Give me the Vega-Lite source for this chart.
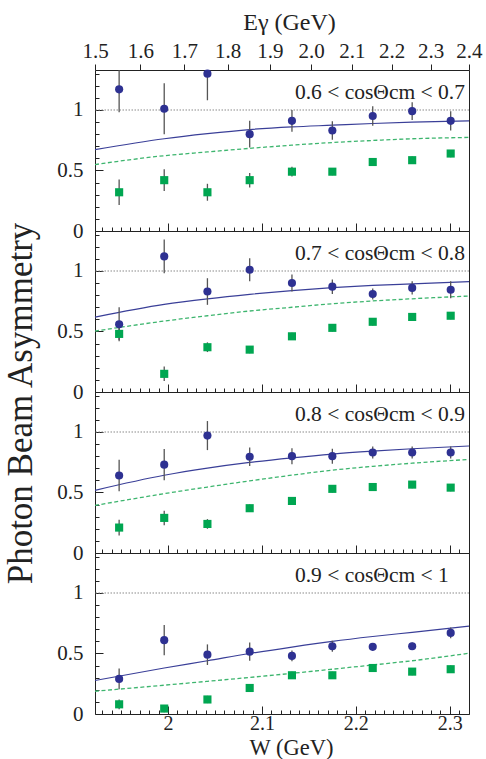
{
  "$schema": "https://vega.github.io/schema/vega-lite/v6.json",
  "background": "white",
  "padding": {"left": 2, "top": 10, "right": 0, "bottom": 0},
  "config": {
    "font": "Liberation Serif, serif",
    "view": {"stroke": "#222", "strokeWidth": 1},
    "text": {"font": "Liberation Serif, serif"},
    "axis": {
      "grid": false, "domain": false,
      "labelFont": "Liberation Serif, serif", "labelFontSize": 21, "labelColor": "#222",
      "titleFont": "Liberation Serif, serif", "titleFontWeight": "normal", "titleColor": "#222",
      "tickColor": "#222", "tickWidth": 1, "labelFlush": false, "labelOverlap": false
    }
  },
  "datasets": {
    "points": [
      {"panel": 1, "series": "circle", "W": 1.948, "value": 1.17, "err": 0.19},
      {"panel": 1, "series": "circle", "W": 1.996, "value": 1.01, "err": 0.21},
      {"panel": 1, "series": "circle", "W": 2.042, "value": 1.30, "err": 0.22},
      {"panel": 1, "series": "circle", "W": 2.087, "value": 0.80, "err": 0.11},
      {"panel": 1, "series": "circle", "W": 2.132, "value": 0.91, "err": 0.09},
      {"panel": 1, "series": "circle", "W": 2.175, "value": 0.83, "err": 0.077},
      {"panel": 1, "series": "circle", "W": 2.218, "value": 0.95, "err": 0.08},
      {"panel": 1, "series": "circle", "W": 2.260, "value": 0.99, "err": 0.073},
      {"panel": 1, "series": "circle", "W": 2.301, "value": 0.91, "err": 0.08},
      {"panel": 1, "series": "square", "W": 1.948, "value": 0.32, "err": 0.105},
      {"panel": 1, "series": "square", "W": 1.996, "value": 0.42, "err": 0.09},
      {"panel": 1, "series": "square", "W": 2.042, "value": 0.32, "err": 0.07},
      {"panel": 1, "series": "square", "W": 2.087, "value": 0.42, "err": 0.06},
      {"panel": 1, "series": "square", "W": 2.132, "value": 0.49, "err": 0.04},
      {"panel": 1, "series": "square", "W": 2.175, "value": 0.49, "err": 0.03},
      {"panel": 1, "series": "square", "W": 2.218, "value": 0.57, "err": 0.03},
      {"panel": 1, "series": "square", "W": 2.260, "value": 0.585, "err": 0.03},
      {"panel": 1, "series": "square", "W": 2.301, "value": 0.64, "err": 0.03},
      {"panel": 2, "series": "circle", "W": 1.948, "value": 0.56, "err": 0.14},
      {"panel": 2, "series": "circle", "W": 1.996, "value": 1.12, "err": 0.14},
      {"panel": 2, "series": "circle", "W": 2.042, "value": 0.83, "err": 0.11},
      {"panel": 2, "series": "circle", "W": 2.087, "value": 1.01, "err": 0.095},
      {"panel": 2, "series": "circle", "W": 2.132, "value": 0.90, "err": 0.07},
      {"panel": 2, "series": "circle", "W": 2.175, "value": 0.87, "err": 0.06},
      {"panel": 2, "series": "circle", "W": 2.218, "value": 0.81, "err": 0.045},
      {"panel": 2, "series": "circle", "W": 2.260, "value": 0.86, "err": 0.055},
      {"panel": 2, "series": "circle", "W": 2.301, "value": 0.845, "err": 0.07},
      {"panel": 2, "series": "square", "W": 1.948, "value": 0.48, "err": 0.05},
      {"panel": 2, "series": "square", "W": 1.996, "value": 0.15, "err": 0.06},
      {"panel": 2, "series": "square", "W": 2.042, "value": 0.37, "err": 0.04},
      {"panel": 2, "series": "square", "W": 2.087, "value": 0.35, "err": 0.03},
      {"panel": 2, "series": "square", "W": 2.132, "value": 0.46, "err": 0.03},
      {"panel": 2, "series": "square", "W": 2.175, "value": 0.53, "err": 0.03},
      {"panel": 2, "series": "square", "W": 2.218, "value": 0.58, "err": 0.03},
      {"panel": 2, "series": "square", "W": 2.260, "value": 0.62, "err": 0.03},
      {"panel": 2, "series": "square", "W": 2.301, "value": 0.63, "err": 0.03},
      {"panel": 3, "series": "circle", "W": 1.948, "value": 0.64, "err": 0.13},
      {"panel": 3, "series": "circle", "W": 1.996, "value": 0.73, "err": 0.13},
      {"panel": 3, "series": "circle", "W": 2.042, "value": 0.97, "err": 0.12},
      {"panel": 3, "series": "circle", "W": 2.087, "value": 0.795, "err": 0.077},
      {"panel": 3, "series": "circle", "W": 2.132, "value": 0.80, "err": 0.066},
      {"panel": 3, "series": "circle", "W": 2.175, "value": 0.80, "err": 0.062},
      {"panel": 3, "series": "circle", "W": 2.218, "value": 0.83, "err": 0.05},
      {"panel": 3, "series": "circle", "W": 2.260, "value": 0.83, "err": 0.05},
      {"panel": 3, "series": "circle", "W": 2.301, "value": 0.83, "err": 0.05},
      {"panel": 3, "series": "square", "W": 1.948, "value": 0.21, "err": 0.065},
      {"panel": 3, "series": "square", "W": 1.996, "value": 0.29, "err": 0.06},
      {"panel": 3, "series": "square", "W": 2.042, "value": 0.24, "err": 0.04},
      {"panel": 3, "series": "square", "W": 2.087, "value": 0.37, "err": 0.03},
      {"panel": 3, "series": "square", "W": 2.132, "value": 0.43, "err": 0.03},
      {"panel": 3, "series": "square", "W": 2.175, "value": 0.53, "err": 0.03},
      {"panel": 3, "series": "square", "W": 2.218, "value": 0.545, "err": 0.03},
      {"panel": 3, "series": "square", "W": 2.260, "value": 0.565, "err": 0.03},
      {"panel": 3, "series": "square", "W": 2.301, "value": 0.54, "err": 0.03},
      {"panel": 4, "series": "circle", "W": 1.948, "value": 0.29, "err": 0.085},
      {"panel": 4, "series": "circle", "W": 1.996, "value": 0.61, "err": 0.125},
      {"panel": 4, "series": "circle", "W": 2.042, "value": 0.49, "err": 0.085},
      {"panel": 4, "series": "circle", "W": 2.087, "value": 0.515, "err": 0.075},
      {"panel": 4, "series": "circle", "W": 2.132, "value": 0.48, "err": 0.045},
      {"panel": 4, "series": "circle", "W": 2.175, "value": 0.56, "err": 0.045},
      {"panel": 4, "series": "circle", "W": 2.218, "value": 0.555, "err": 0.03},
      {"panel": 4, "series": "circle", "W": 2.260, "value": 0.56, "err": 0.03},
      {"panel": 4, "series": "circle", "W": 2.301, "value": 0.67, "err": 0.045},
      {"panel": 4, "series": "square", "W": 1.948, "value": 0.08, "err": 0.04},
      {"panel": 4, "series": "square", "W": 1.996, "value": 0.045, "err": 0.03},
      {"panel": 4, "series": "square", "W": 2.042, "value": 0.12, "err": 0.03},
      {"panel": 4, "series": "square", "W": 2.087, "value": 0.215, "err": 0.03},
      {"panel": 4, "series": "square", "W": 2.132, "value": 0.32, "err": 0.03},
      {"panel": 4, "series": "square", "W": 2.175, "value": 0.32, "err": 0.03},
      {"panel": 4, "series": "square", "W": 2.218, "value": 0.38, "err": 0.03},
      {"panel": 4, "series": "square", "W": 2.260, "value": 0.35, "err": 0.03},
      {"panel": 4, "series": "square", "W": 2.301, "value": 0.37, "err": 0.03}
    ],
    "curves": [
      {"panel": 1, "curve": "solid", "W": 1.9223, "value": 0.672},
      {"panel": 1, "curve": "solid", "W": 1.996, "value": 0.762},
      {"panel": 1, "curve": "solid", "W": 2.042, "value": 0.804},
      {"panel": 1, "curve": "solid", "W": 2.087, "value": 0.838},
      {"panel": 1, "curve": "solid", "W": 2.132, "value": 0.860},
      {"panel": 1, "curve": "solid", "W": 2.175, "value": 0.874},
      {"panel": 1, "curve": "solid", "W": 2.218, "value": 0.888},
      {"panel": 1, "curve": "solid", "W": 2.260, "value": 0.899},
      {"panel": 1, "curve": "solid", "W": 2.3205, "value": 0.910},
      {"panel": 1, "curve": "dashed", "W": 1.9223, "value": 0.549},
      {"panel": 1, "curve": "dashed", "W": 1.996, "value": 0.622},
      {"panel": 1, "curve": "dashed", "W": 2.042, "value": 0.653},
      {"panel": 1, "curve": "dashed", "W": 2.087, "value": 0.683},
      {"panel": 1, "curve": "dashed", "W": 2.132, "value": 0.709},
      {"panel": 1, "curve": "dashed", "W": 2.175, "value": 0.731},
      {"panel": 1, "curve": "dashed", "W": 2.218, "value": 0.748},
      {"panel": 1, "curve": "dashed", "W": 2.260, "value": 0.762},
      {"panel": 1, "curve": "dashed", "W": 2.3205, "value": 0.773},
      {"panel": 2, "curve": "solid", "W": 1.9223, "value": 0.619},
      {"panel": 2, "curve": "solid", "W": 1.996, "value": 0.724},
      {"panel": 2, "curve": "solid", "W": 2.042, "value": 0.770},
      {"panel": 2, "curve": "solid", "W": 2.087, "value": 0.807},
      {"panel": 2, "curve": "solid", "W": 2.132, "value": 0.838},
      {"panel": 2, "curve": "solid", "W": 2.175, "value": 0.862},
      {"panel": 2, "curve": "solid", "W": 2.218, "value": 0.880},
      {"panel": 2, "curve": "solid", "W": 2.260, "value": 0.893},
      {"panel": 2, "curve": "solid", "W": 2.3205, "value": 0.912},
      {"panel": 2, "curve": "dashed", "W": 1.9223, "value": 0.503},
      {"panel": 2, "curve": "dashed", "W": 1.996, "value": 0.586},
      {"panel": 2, "curve": "dashed", "W": 2.042, "value": 0.630},
      {"panel": 2, "curve": "dashed", "W": 2.087, "value": 0.669},
      {"panel": 2, "curve": "dashed", "W": 2.132, "value": 0.700},
      {"panel": 2, "curve": "dashed", "W": 2.175, "value": 0.729},
      {"panel": 2, "curve": "dashed", "W": 2.218, "value": 0.752},
      {"panel": 2, "curve": "dashed", "W": 2.260, "value": 0.770},
      {"panel": 2, "curve": "dashed", "W": 2.3205, "value": 0.793},
      {"panel": 3, "curve": "solid", "W": 1.9223, "value": 0.518},
      {"panel": 3, "curve": "solid", "W": 1.996, "value": 0.642},
      {"panel": 3, "curve": "solid", "W": 2.042, "value": 0.701},
      {"panel": 3, "curve": "solid", "W": 2.087, "value": 0.748},
      {"panel": 3, "curve": "solid", "W": 2.132, "value": 0.786},
      {"panel": 3, "curve": "solid", "W": 2.175, "value": 0.817},
      {"panel": 3, "curve": "solid", "W": 2.218, "value": 0.841},
      {"panel": 3, "curve": "solid", "W": 2.260, "value": 0.861},
      {"panel": 3, "curve": "solid", "W": 2.3205, "value": 0.884},
      {"panel": 3, "curve": "dashed", "W": 1.9223, "value": 0.393},
      {"panel": 3, "curve": "dashed", "W": 1.996, "value": 0.490},
      {"panel": 3, "curve": "dashed", "W": 2.042, "value": 0.545},
      {"panel": 3, "curve": "dashed", "W": 2.087, "value": 0.596},
      {"panel": 3, "curve": "dashed", "W": 2.132, "value": 0.643},
      {"panel": 3, "curve": "dashed", "W": 2.175, "value": 0.684},
      {"panel": 3, "curve": "dashed", "W": 2.218, "value": 0.716},
      {"panel": 3, "curve": "dashed", "W": 2.260, "value": 0.742},
      {"panel": 3, "curve": "dashed", "W": 2.3205, "value": 0.773},
      {"panel": 4, "curve": "solid", "W": 1.9223, "value": 0.277},
      {"panel": 4, "curve": "solid", "W": 1.996, "value": 0.380},
      {"panel": 4, "curve": "solid", "W": 2.042, "value": 0.440},
      {"panel": 4, "curve": "solid", "W": 2.087, "value": 0.500},
      {"panel": 4, "curve": "solid", "W": 2.132, "value": 0.553},
      {"panel": 4, "curve": "solid", "W": 2.175, "value": 0.600},
      {"panel": 4, "curve": "solid", "W": 2.218, "value": 0.640},
      {"panel": 4, "curve": "solid", "W": 2.260, "value": 0.675},
      {"panel": 4, "curve": "solid", "W": 2.3205, "value": 0.726},
      {"panel": 4, "curve": "dashed", "W": 1.9223, "value": 0.188},
      {"panel": 4, "curve": "dashed", "W": 1.996, "value": 0.238},
      {"panel": 4, "curve": "dashed", "W": 2.042, "value": 0.270},
      {"panel": 4, "curve": "dashed", "W": 2.087, "value": 0.302},
      {"panel": 4, "curve": "dashed", "W": 2.132, "value": 0.336},
      {"panel": 4, "curve": "dashed", "W": 2.175, "value": 0.370},
      {"panel": 4, "curve": "dashed", "W": 2.218, "value": 0.405},
      {"panel": 4, "curve": "dashed", "W": 2.260, "value": 0.440},
      {"panel": 4, "curve": "dashed", "W": 2.3205, "value": 0.502}
    ]
  },
  "spacing": 0,
  "bounds": "flush",
  "vconcat": [
    {
      "width": 374, "height": 161,
      "resolve": {"axis": {"x": "independent", "y": "independent"}},
      "layer": [
        {
          "data": {"values": [{"level": 1}]},
          "mark": {"type": "rule", "color": "#8a8a8a", "strokeDash": [1.5, 1.5], "strokeWidth": 1.1},
          "encoding": {"y": {"field": "level", "type": "quantitative",
            "axis": {"orient": "left", "title": null, "values": [0, 0.5, 1], "ticks": false, "labelPadding": 12, "labelExpr": "'' + datum.value"}}}
        },
        {
          "data": {"name": "curves"},
          "transform": [{"filter": "datum.panel == 1 && datum.curve == 'solid'"}],
          "mark": {"type": "line", "color": "#3a3f98", "strokeWidth": 1.2, "interpolate": "monotone"},
          "encoding": {
            "x": {"field": "W", "type": "quantitative", "scale": {"domain": [1.9223, 2.3205], "nice": false, "zero": false},
                  "axis": {"orient": "bottom", "title": null, "labels": false, "values": [2.0, 2.1, 2.2, 2.3], "tickSize": -8}},
            "y": {"field": "value", "type": "quantitative", "scale": {"domain": [0, 1.33], "nice": false, "zero": false, "clamp": true},
                  "axis": {"orient": "left", "title": null, "labels": false, "values": [0, 0.5, 1], "tickSize": -8}}
          }
        },
        {
          "data": {"name": "curves"},
          "transform": [{"filter": "datum.panel == 1 && datum.curve == 'dashed'"}],
          "mark": {"type": "line", "color": "#3db56e", "strokeWidth": 1.3, "strokeDash": [4, 2.5], "interpolate": "monotone"},
          "encoding": {
            "x": {"field": "W", "type": "quantitative",
                  "axis": {"orient": "bottom", "title": null, "labels": false, "tickSize": -4,
                           "values": [1.93,1.94,1.95,1.96,1.97,1.98,1.99,2.01,2.02,2.03,2.04,2.05,2.06,2.07,2.08,2.09,2.11,2.12,2.13,2.14,2.15,2.16,2.17,2.18,2.19,2.21,2.22,2.23,2.24,2.25,2.26,2.27,2.28,2.29,2.31,2.32]}},
            "y": {"field": "value", "type": "quantitative",
                  "axis": {"orient": "left", "title": null, "labels": false, "tickSize": -4,
                           "values": [0.1, 0.2, 0.3, 0.4, 0.6, 0.7, 0.8, 0.9, 1.1, 1.2, 1.3]}}
          }
        },
        {
          "data": {"name": "points"},
          "transform": [{"filter": "datum.panel == 1"}],
          "mark": {"type": "errorbar", "ticks": false, "color": "#555", "thickness": 1.3},
          "encoding": {
            "x": {"field": "W", "type": "quantitative", "axis": null},
            "y": {"field": "value", "type": "quantitative", "axis": null},
            "yError": {"field": "err"}
          }
        },
        {
          "data": {"name": "points"},
          "transform": [{"filter": "datum.panel == 1"}],
          "mark": {"type": "point", "filled": true, "opacity": 1, "size": 66, "strokeWidth": 0},
          "encoding": {
            "x": {"field": "W", "type": "quantitative",
                  "axis": {"orient": "top", "title": "Eγ (GeV)", "titleFontSize": 24, "titleX": 194, "titleY": -40.5, "titleAlign": "center", "titleBaseline": "alphabetic",
                           "values": [1.92231, 1.97048, 2.01754, 2.06352, 2.1085, 2.15254, 2.1957, 2.23802, 2.27956, 2.32036],
                           "labelExpr": "format((datum.value*datum.value - 0.880351)/1.876544, '.1f')",
                           "tickSize": 6, "labelPadding": 3}},
            "y": {"field": "value", "type": "quantitative", "axis": null},
            "shape": {"field": "series", "type": "nominal", "scale": {"domain": ["circle", "square"], "range": ["circle", "square"]}, "legend": null},
            "color": {"field": "series", "type": "nominal", "scale": {"domain": ["circle", "square"], "range": ["#2e3192", "#00a651"]}, "legend": null}
          }
        },
        {
          "data": {"values": [{"label": "0.6 < cosΘcm < 0.7"}]},
          "mark": {"type": "text", "align": "left", "baseline": "alphabetic", "fontSize": 21.5, "font": "Liberation Serif, serif", "color": "#222"},
          "encoding": {
            "x": {"datum": 2.1352, "type": "quantitative", "axis": null},
            "y": {"datum": 1.09, "type": "quantitative", "axis": null},
            "text": {"field": "label"}
          }
        }
      ]
    },
    {
      "width": 374, "height": 161,
      "resolve": {"axis": {"x": "independent", "y": "independent"}},
      "layer": [
        {
          "data": {"values": [{"level": 1}]},
          "mark": {"type": "rule", "color": "#8a8a8a", "strokeDash": [1.5, 1.5], "strokeWidth": 1.1},
          "encoding": {"y": {"field": "level", "type": "quantitative",
            "axis": {"orient": "left", "title": null, "values": [0, 0.5, 1], "ticks": false, "labelPadding": 12, "labelExpr": "'' + datum.value"}}}
        },
        {
          "data": {"name": "curves"},
          "transform": [{"filter": "datum.panel == 2 && datum.curve == 'solid'"}],
          "mark": {"type": "line", "color": "#3a3f98", "strokeWidth": 1.2, "interpolate": "monotone"},
          "encoding": {
            "x": {"field": "W", "type": "quantitative", "scale": {"domain": [1.9223, 2.3205], "nice": false, "zero": false},
                  "axis": {"orient": "bottom", "title": null, "labels": false, "values": [2.0, 2.1, 2.2, 2.3], "tickSize": -8}},
            "y": {"field": "value", "type": "quantitative", "scale": {"domain": [0, 1.33], "nice": false, "zero": false, "clamp": true},
                  "axis": {"orient": "left", "title": null, "labels": false, "values": [0, 0.5, 1], "tickSize": -8}}
          }
        },
        {
          "data": {"name": "curves"},
          "transform": [{"filter": "datum.panel == 2 && datum.curve == 'dashed'"}],
          "mark": {"type": "line", "color": "#3db56e", "strokeWidth": 1.3, "strokeDash": [4, 2.5], "interpolate": "monotone"},
          "encoding": {
            "x": {"field": "W", "type": "quantitative",
                  "axis": {"orient": "bottom", "title": null, "labels": false, "tickSize": -4,
                           "values": [1.93,1.94,1.95,1.96,1.97,1.98,1.99,2.01,2.02,2.03,2.04,2.05,2.06,2.07,2.08,2.09,2.11,2.12,2.13,2.14,2.15,2.16,2.17,2.18,2.19,2.21,2.22,2.23,2.24,2.25,2.26,2.27,2.28,2.29,2.31,2.32]}},
            "y": {"field": "value", "type": "quantitative",
                  "axis": {"orient": "left", "title": null, "labels": false, "tickSize": -4,
                           "values": [0.1, 0.2, 0.3, 0.4, 0.6, 0.7, 0.8, 0.9, 1.1, 1.2, 1.3]}}
          }
        },
        {
          "data": {"name": "points"},
          "transform": [{"filter": "datum.panel == 2"}],
          "mark": {"type": "errorbar", "ticks": false, "color": "#555", "thickness": 1.3},
          "encoding": {
            "x": {"field": "W", "type": "quantitative", "axis": null},
            "y": {"field": "value", "type": "quantitative", "axis": null},
            "yError": {"field": "err"}
          }
        },
        {
          "data": {"name": "points"},
          "transform": [{"filter": "datum.panel == 2"}],
          "mark": {"type": "point", "filled": true, "opacity": 1, "size": 66, "strokeWidth": 0},
          "encoding": {
            "x": {"field": "W", "type": "quantitative", "axis": null},
            "y": {"field": "value", "type": "quantitative", "axis": null},
            "shape": {"field": "series", "type": "nominal", "scale": {"domain": ["circle", "square"], "range": ["circle", "square"]}, "legend": null},
            "color": {"field": "series", "type": "nominal", "scale": {"domain": ["circle", "square"], "range": ["#2e3192", "#00a651"]}, "legend": null}
          }
        },
        {
          "data": {"values": [{"label": "0.7 < cosΘcm < 0.8"}]},
          "mark": {"type": "text", "align": "left", "baseline": "alphabetic", "fontSize": 21.5, "font": "Liberation Serif, serif", "color": "#222"},
          "encoding": {
            "x": {"datum": 2.1352, "type": "quantitative", "axis": null},
            "y": {"datum": 1.09, "type": "quantitative", "axis": null},
            "text": {"field": "label"}
          }
        }
      ]
    },
    {
      "width": 374, "height": 161,
      "resolve": {"axis": {"x": "independent", "y": "independent"}},
      "layer": [
        {
          "data": {"values": [{"level": 1}]},
          "mark": {"type": "rule", "color": "#8a8a8a", "strokeDash": [1.5, 1.5], "strokeWidth": 1.1},
          "encoding": {"y": {"field": "level", "type": "quantitative",
            "axis": {"orient": "left", "values": [0, 0.5, 1], "ticks": false, "labelPadding": 12, "labelExpr": "'' + datum.value",
                     "title": "Photon Beam Asymmetry", "titleFontSize": 35, "titleX": -64, "titleY": 11, "titleAlign": "center", "titleBaseline": "alphabetic"}}}
        },
        {
          "data": {"name": "curves"},
          "transform": [{"filter": "datum.panel == 3 && datum.curve == 'solid'"}],
          "mark": {"type": "line", "color": "#3a3f98", "strokeWidth": 1.2, "interpolate": "monotone"},
          "encoding": {
            "x": {"field": "W", "type": "quantitative", "scale": {"domain": [1.9223, 2.3205], "nice": false, "zero": false},
                  "axis": {"orient": "bottom", "title": null, "labels": false, "values": [2.0, 2.1, 2.2, 2.3], "tickSize": -8}},
            "y": {"field": "value", "type": "quantitative", "scale": {"domain": [0, 1.33], "nice": false, "zero": false, "clamp": true},
                  "axis": {"orient": "left", "title": null, "labels": false, "values": [0, 0.5, 1], "tickSize": -8}}
          }
        },
        {
          "data": {"name": "curves"},
          "transform": [{"filter": "datum.panel == 3 && datum.curve == 'dashed'"}],
          "mark": {"type": "line", "color": "#3db56e", "strokeWidth": 1.3, "strokeDash": [4, 2.5], "interpolate": "monotone"},
          "encoding": {
            "x": {"field": "W", "type": "quantitative",
                  "axis": {"orient": "bottom", "title": null, "labels": false, "tickSize": -4,
                           "values": [1.93,1.94,1.95,1.96,1.97,1.98,1.99,2.01,2.02,2.03,2.04,2.05,2.06,2.07,2.08,2.09,2.11,2.12,2.13,2.14,2.15,2.16,2.17,2.18,2.19,2.21,2.22,2.23,2.24,2.25,2.26,2.27,2.28,2.29,2.31,2.32]}},
            "y": {"field": "value", "type": "quantitative",
                  "axis": {"orient": "left", "title": null, "labels": false, "tickSize": -4,
                           "values": [0.1, 0.2, 0.3, 0.4, 0.6, 0.7, 0.8, 0.9, 1.1, 1.2, 1.3]}}
          }
        },
        {
          "data": {"name": "points"},
          "transform": [{"filter": "datum.panel == 3"}],
          "mark": {"type": "errorbar", "ticks": false, "color": "#555", "thickness": 1.3},
          "encoding": {
            "x": {"field": "W", "type": "quantitative", "axis": null},
            "y": {"field": "value", "type": "quantitative", "axis": null},
            "yError": {"field": "err"}
          }
        },
        {
          "data": {"name": "points"},
          "transform": [{"filter": "datum.panel == 3"}],
          "mark": {"type": "point", "filled": true, "opacity": 1, "size": 66, "strokeWidth": 0},
          "encoding": {
            "x": {"field": "W", "type": "quantitative", "axis": null},
            "y": {"field": "value", "type": "quantitative", "axis": null},
            "shape": {"field": "series", "type": "nominal", "scale": {"domain": ["circle", "square"], "range": ["circle", "square"]}, "legend": null},
            "color": {"field": "series", "type": "nominal", "scale": {"domain": ["circle", "square"], "range": ["#2e3192", "#00a651"]}, "legend": null}
          }
        },
        {
          "data": {"values": [{"label": "0.8 < cosΘcm < 0.9"}]},
          "mark": {"type": "text", "align": "left", "baseline": "alphabetic", "fontSize": 21.5, "font": "Liberation Serif, serif", "color": "#222"},
          "encoding": {
            "x": {"datum": 2.1352, "type": "quantitative", "axis": null},
            "y": {"datum": 1.09, "type": "quantitative", "axis": null},
            "text": {"field": "label"}
          }
        }
      ]
    },
    {
      "width": 374, "height": 161,
      "resolve": {"axis": {"x": "independent", "y": "independent"}},
      "layer": [
        {
          "data": {"values": [{"level": 1}]},
          "mark": {"type": "rule", "color": "#8a8a8a", "strokeDash": [1.5, 1.5], "strokeWidth": 1.1},
          "encoding": {"y": {"field": "level", "type": "quantitative",
            "axis": {"orient": "left", "title": null, "values": [0, 0.5, 1], "ticks": false, "labelPadding": 12, "labelExpr": "'' + datum.value"}}}
        },
        {
          "data": {"name": "curves"},
          "transform": [{"filter": "datum.panel == 4 && datum.curve == 'solid'"}],
          "mark": {"type": "line", "color": "#3a3f98", "strokeWidth": 1.2, "interpolate": "monotone"},
          "encoding": {
            "x": {"field": "W", "type": "quantitative", "scale": {"domain": [1.9223, 2.3205], "nice": false, "zero": false},
                  "axis": {"orient": "bottom", "title": null, "labels": false, "values": [2.0, 2.1, 2.2, 2.3], "tickSize": -8}},
            "y": {"field": "value", "type": "quantitative", "scale": {"domain": [0, 1.33], "nice": false, "zero": false, "clamp": true},
                  "axis": {"orient": "left", "title": null, "labels": false, "values": [0, 0.5, 1], "tickSize": -8}}
          }
        },
        {
          "data": {"name": "curves"},
          "transform": [{"filter": "datum.panel == 4 && datum.curve == 'dashed'"}],
          "mark": {"type": "line", "color": "#3db56e", "strokeWidth": 1.3, "strokeDash": [4, 2.5], "interpolate": "monotone"},
          "encoding": {
            "x": {"field": "W", "type": "quantitative",
                  "axis": {"orient": "bottom", "title": null, "labels": false, "tickSize": -4,
                           "values": [1.93,1.94,1.95,1.96,1.97,1.98,1.99,2.01,2.02,2.03,2.04,2.05,2.06,2.07,2.08,2.09,2.11,2.12,2.13,2.14,2.15,2.16,2.17,2.18,2.19,2.21,2.22,2.23,2.24,2.25,2.26,2.27,2.28,2.29,2.31,2.32]}},
            "y": {"field": "value", "type": "quantitative",
                  "axis": {"orient": "left", "title": null, "labels": false, "tickSize": -4,
                           "values": [0.1, 0.2, 0.3, 0.4, 0.6, 0.7, 0.8, 0.9, 1.1, 1.2, 1.3]}}
          }
        },
        {
          "data": {"name": "points"},
          "transform": [{"filter": "datum.panel == 4"}],
          "mark": {"type": "errorbar", "ticks": false, "color": "#555", "thickness": 1.3},
          "encoding": {
            "x": {"field": "W", "type": "quantitative", "axis": null},
            "y": {"field": "value", "type": "quantitative", "axis": null},
            "yError": {"field": "err"}
          }
        },
        {
          "data": {"name": "points"},
          "transform": [{"filter": "datum.panel == 4"}],
          "mark": {"type": "point", "filled": true, "opacity": 1, "size": 66, "strokeWidth": 0},
          "encoding": {
            "x": {"field": "W", "type": "quantitative",
                  "axis": {"orient": "bottom", "values": [2.0, 2.1, 2.2, 2.3], "ticks": false,
                           "labelFontSize": 20, "labelBaseline": "alphabetic", "labelPadding": 15.5, "labelExpr": "'' + datum.value",
                           "title": "W (GeV)", "titleFontSize": 22.5, "titleX": 196, "titleY": 40, "titleAlign": "center", "titleBaseline": "alphabetic"}},
            "y": {"field": "value", "type": "quantitative", "axis": null},
            "shape": {"field": "series", "type": "nominal", "scale": {"domain": ["circle", "square"], "range": ["circle", "square"]}, "legend": null},
            "color": {"field": "series", "type": "nominal", "scale": {"domain": ["circle", "square"], "range": ["#2e3192", "#00a651"]}, "legend": null}
          }
        },
        {
          "data": {"values": [{"label": "0.9 < cosΘcm < 1"}]},
          "mark": {"type": "text", "align": "left", "baseline": "alphabetic", "fontSize": 21.5, "font": "Liberation Serif, serif", "color": "#222"},
          "encoding": {
            "x": {"datum": 2.1352, "type": "quantitative", "axis": null},
            "y": {"datum": 1.09, "type": "quantitative", "axis": null},
            "text": {"field": "label"}
          }
        }
      ]
    }
  ]
}
